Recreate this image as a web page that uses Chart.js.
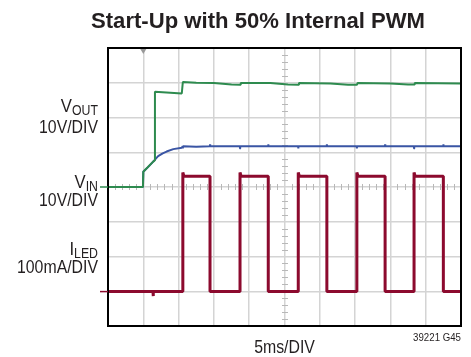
<!DOCTYPE html>
<html>
<head>
<meta charset="utf-8">
<script src="https://cdn.jsdelivr.net/npm/chart.js@4"></script>
<style>
  html, body { margin: 0; padding: 0; background: #fff; }
  #wrap { width: 471px; height: 357px; }
</style>
</head>
<body>
<div id="wrap"><canvas id="scope" width="471" height="357"></canvas></div>
<script>
// time in divisions (5ms/DIV), levels in screen divisions from the bottom of the grid
var voutT = [0, 0.99, 1.0, 1.28, 1.32, 1.33, 2.09, 2.12, 2.5, 3.0, 3.5, 3.74, 3.76, 4.6, 5.1, 5.39, 5.41, 6.3, 6.8, 7.05, 7.07, 8.0, 8.5, 8.67, 8.69, 10];
var voutV = [4.0, 4.0, 4.44, 4.73, 4.76, 6.74, 6.69, 7.02, 7.0, 6.99, 6.95, 6.94, 6.99, 6.99, 6.95, 6.94, 6.99, 6.98, 6.94, 6.94, 6.99, 6.98, 6.95, 6.95, 6.99, 6.98];

var vinT = [0, 0.99, 1.0, 1.14, 1.28, 1.42, 1.55, 1.66, 1.85, 2.09, 2.5, 10];
var vinV = [4.0, 4.0, 4.44, 4.58, 4.73, 4.89, 4.97, 5.02, 5.09, 5.13, 5.16, 5.17];

// PWM edges of the LED current
var pwmRise = [2.12, 3.74, 5.39, 7.05, 8.67];
var pwmFall = [2.89, 4.54, 6.20, 7.85, 9.50];
var iledLow = 0.99;
var iledHigh = 4.31;
var iledPeak = 4.42;
var iledGlitch = [1.28, 0.86];

function pairs(t, v) {
    return t.map(function (x, i) { return { x: x, y: v[i] }; });
}

// input shows small ticks at each PWM edge
var vinPts = pairs(vinT, vinV);
var vinLevel = vinV[vinV.length - 1];
pwmRise.concat(pwmFall).forEach(function (t) {
    var d = pwmRise.indexOf(t) >= 0 ? -0.06 : 0.06;
    vinPts.push({ x: t - 0.005, y: vinLevel }, { x: t, y: vinLevel + d }, { x: t + 0.005, y: vinLevel });
});
vinPts.sort(function (a, b) { return a.x - b.x; });

var iledPts = [{ x: 0, y: iledLow },
    { x: iledGlitch[0] - 0.005, y: iledLow }, { x: iledGlitch[0], y: iledGlitch[1] }, { x: iledGlitch[0] + 0.005, y: iledLow }];
pwmRise.forEach(function (r, i) {
    iledPts.push({ x: r, y: iledLow }, { x: r, y: iledPeak }, { x: r + 0.03, y: iledHigh },
        { x: pwmFall[i], y: iledHigh }, { x: pwmFall[i], y: iledLow });
});
iledPts.push({ x: 10, y: iledLow });

var FONT = '"Liberation Sans", Arial, sans-serif';
var NARROW = 0.88;

// draw text squeezed horizontally (condensed look); align: 'left' | 'right' | 'center'
function narrowText(ctx, text, x, y, align, sx) {
    var w = ctx.measureText(text).width * sx;
    var x0 = align === 'right' ? x - w : align === 'center' ? x - w / 2 : x;
    ctx.save();
    ctx.textAlign = 'left';
    ctx.translate(x0, y);
    ctx.scale(sx, 1);
    ctx.fillText(text, 0, 0);
    ctx.restore();
    return w;
}

// text with a subscript, right aligned at x
function subLabel(ctx, main, sub, x, y) {
    ctx.font = '14px ' + FONT;
    var ws = narrowText(ctx, sub, x, y + 3, 'right', NARROW);
    ctx.font = '19px ' + FONT;
    narrowText(ctx, main, x - ws, y, 'right', NARROW);
}

var scopeDecor = {
    id: 'scopeDecor',
    afterDraw: function (chart) {
        var ctx = chart.ctx;
        var a = chart.chartArea;
        var xs = chart.scales.x, ys = chart.scales.y;
        var cx = xs.getPixelForValue(5), cy = ys.getPixelForValue(4);
        ctx.save();

        // frame
        ctx.strokeStyle = '#000';
        ctx.lineWidth = 2;
        ctx.strokeRect(a.left, a.top, a.right - a.left, a.bottom - a.top);

        // trigger marker
        var tx = xs.getPixelForValue(1);
        ctx.fillStyle = '#999';
        ctx.beginPath();
        ctx.moveTo(tx - 3, a.top + 1); ctx.lineTo(tx + 3, a.top + 1); ctx.lineTo(tx, a.top + 6);
        ctx.fill();

        // channel ground markers
        ctx.lineWidth = 1.5;
        ctx.strokeStyle = '#2e8b4f';
        ctx.beginPath(); ctx.moveTo(a.left - 8, ys.getPixelForValue(4)); ctx.lineTo(a.left, ys.getPixelForValue(4)); ctx.stroke();
        ctx.strokeStyle = '#8c0a2e';
        ctx.beginPath(); ctx.moveTo(a.left - 8, ys.getPixelForValue(iledLow)); ctx.lineTo(a.left, ys.getPixelForValue(iledLow)); ctx.stroke();

        // texts
        ctx.fillStyle = '#231f20';
        ctx.textBaseline = 'alphabetic';
        ctx.font = 'bold 22px ' + FONT;
        var tw = ctx.measureText('Start-Up with 50% Internal PWM').width;
        narrowText(ctx, 'Start-Up with 50% Internal PWM', 91, 28, 'left', 334 / tw);

        subLabel(ctx, 'V', 'OUT', 98, 112);
        subLabel(ctx, 'V', 'IN', 98, 188);
        subLabel(ctx, 'I', 'LED', 98, 255);

        ctx.font = '18px ' + FONT;
        narrowText(ctx, '10V/DIV', 98, 133, 'right', NARROW);
        narrowText(ctx, '10V/DIV', 98, 206, 'right', NARROW);
        narrowText(ctx, '100mA/DIV', 98, 273, 'right', NARROW);
        narrowText(ctx, '5ms/DIV', cx, 353, 'center', NARROW);

        ctx.font = '11px ' + FONT;
        narrowText(ctx, '39221 G45', a.right, 341, 'right', NARROW);
        ctx.restore();
    },
    beforeDatasetsDraw: function (chart) {
        // minor ticks on the center graticule lines
        var ctx = chart.ctx;
        var xs = chart.scales.x, ys = chart.scales.y;
        var cx = Math.round(xs.getPixelForValue(5)), cy = Math.round(ys.getPixelForValue(4));
        ctx.save();
        ctx.strokeStyle = '#b8b8b8';
        ctx.lineWidth = 1;
        ctx.beginPath();
        for (var i = 1; i < 50; i++) {
            if (i % 5 === 0) continue;
            var px = Math.round(xs.getPixelForValue(i * 0.2)) + 0.5;
            ctx.moveTo(px, cy - 3); ctx.lineTo(px, cy + 3);
        }
        for (var j = 1; j < 40; j++) {
            if (j % 5 === 0) continue;
            var py = Math.round(ys.getPixelForValue(j * 0.2)) + 0.5;
            ctx.moveTo(cx - 3, py); ctx.lineTo(cx + 3, py);
        }
        ctx.stroke();
        ctx.restore();
    }
};

var ctx = document.getElementById('scope').getContext('2d');
var scope = new Chart(ctx, {
    type: 'line',
    data: {
        datasets: [{
            label: 'ILED',
            data: iledPts,
            borderColor: '#8c0a2e',
            borderWidth: 3,
        }, {
            label: 'VOUT',
            data: pairs(voutT, voutV),
            borderColor: '#2e8b4f',
            borderWidth: 2,
        }, {
            label: 'VIN',
            data: vinPts,
            borderColor: '#3a55a4',
            borderWidth: 2,
        }],
    },
    options: {
        responsive: false,
        animation: false,
        parsing: false,
        layout: {
            padding: { left: 108, top: 48, right: 10, bottom: 31 }
        },
        elements: {
            point: { radius: 0 },
            line: { tension: 0, borderJoinStyle: 'bevel' }
        },
        scales: {
            x: {
                type: 'linear',
                min: 0,
                max: 10,
                ticks: { display: false, stepSize: 1 },
                grid: { color: '#d4d4d4', lineWidth: 1.5, drawTicks: false },
                border: { display: false }
            },
            y: {
                type: 'linear',
                min: 0,
                max: 8,
                ticks: { display: false, stepSize: 1 },
                grid: { color: '#d4d4d4', lineWidth: 1.5, drawTicks: false },
                border: { display: false }
            }
        },
        plugins: {
            legend: { display: false },
            tooltip: { enabled: false },
            title: { display: false }
        }
    },
    plugins: [
        scopeDecor,
    ]
});
</script>
</body>
</html>
